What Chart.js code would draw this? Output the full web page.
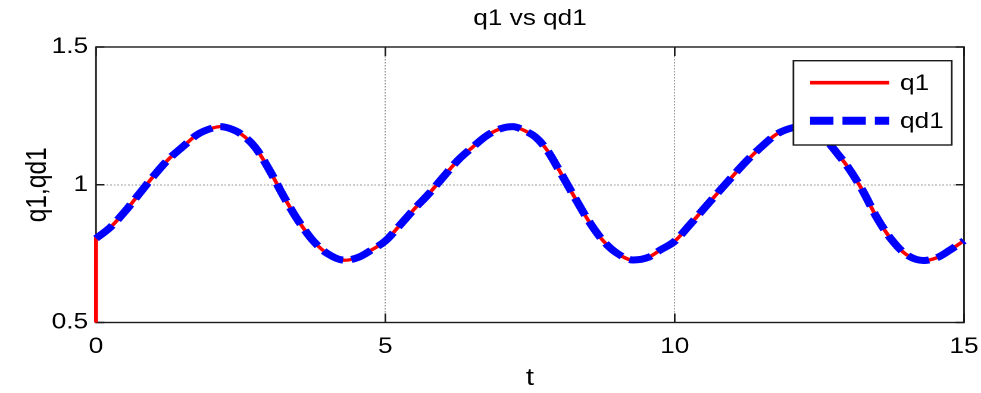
<!DOCTYPE html>
<html>
<head>
<meta charset="utf-8">
<script src="https://cdn.jsdelivr.net/npm/chart.js@4.4.1/dist/chart.umd.min.js"></script>
<style>
  html, body { margin: 0; padding: 0; background: #fff; overflow: hidden; }
  /* the figure is laid out at 824px and widened to fill the 981px window */
  #wrap { position: absolute; left: 0; top: 0; width: 824px; height: 393px;
          transform: scaleX(1.19053); transform-origin: 0 0; }
  canvas { display: block; }
</style>
</head>
<body>
<div id="wrap"><canvas id="c" width="824" height="393"></canvas></div>
<script>
// sample times (s)
const tValues = [
  0, 0.25, 0.5, 0.75, 1, 1.25, 1.5, 1.75, 2, 2.15, 2.3, 2.5, 2.75, 3, 3.25, 3.5, 3.75, 4, 4.3, 4.55, 4.75,
  5, 5.25, 5.5, 5.75, 6, 6.25, 6.5, 6.75, 7, 7.2, 7.4, 7.6, 7.8, 8, 8.25, 8.5, 8.75, 9, 9.28, 9.55, 9.75,
  10, 10.25, 10.5, 10.75, 11, 11.25, 11.5, 11.75, 12, 12.2, 12.4, 12.6, 12.8, 13, 13.25, 13.5, 13.75, 14, 14.3, 14.55, 14.75,
  15
];

// desired joint trajectory qd1
const qd1Values = [
  0.805, 0.846, 0.903, 0.968, 1.033, 1.092, 1.138, 1.182, 1.205, 1.211, 1.205, 1.185, 1.136, 1.052, 0.955, 0.868, 0.797, 0.750, 0.726, 0.738, 0.762,
  0.796, 0.853, 0.912, 0.967, 1.028, 1.088, 1.135, 1.178, 1.204, 1.211, 1.197, 1.172, 1.124, 1.054, 0.962, 0.873, 0.800, 0.752, 0.727, 0.737, 0.763,
  0.795, 0.852, 0.912, 0.972, 1.031, 1.088, 1.138, 1.182, 1.205, 1.211, 1.197, 1.166, 1.116, 1.062, 0.978, 0.878, 0.800, 0.747, 0.725, 0.737, 0.762,
  0.797
];

// measured joint angle q1 (starts from its initial position, then follows qd1)
const q1Initial = 0.5;
const q1Values = [
  0.805, 0.846, 0.903, 0.968, 1.033, 1.092, 1.138, 1.182, 1.205, 1.211, 1.205, 1.185, 1.136, 1.052, 0.955, 0.868, 0.797, 0.750, 0.726, 0.738, 0.762,
  0.796, 0.853, 0.912, 0.967, 1.028, 1.088, 1.135, 1.178, 1.204, 1.211, 1.197, 1.172, 1.124, 1.054, 0.962, 0.873, 0.800, 0.752, 0.727, 0.737, 0.763,
  0.795, 0.852, 0.912, 0.972, 1.031, 1.088, 1.138, 1.182, 1.205, 1.211, 1.197, 1.166, 1.116, 1.062, 0.978, 0.878, 0.800, 0.747, 0.725, 0.737, 0.762,
  0.797
];

const xTicks = [0, 5, 10, 15];
const yTicks = [0.5, 1, 1.5];

const FONT = "'Liberation Sans', Arial, Helvetica, sans-serif";

const q1Points = [{ x: 0, y: q1Initial }].concat(tValues.map((t, i) => ({ x: t, y: q1Values[i] })));
const qd1Points = tValues.map((t, i) => ({ x: t, y: qd1Values[i] }));

// axes box with inward tick marks on all four sides
const axesFrame = {
  id: 'axesFrame',
  beforeDatasetsDraw(chart) {
    const { ctx, chartArea: a, scales: { x, y } } = chart;
    ctx.save();
    ctx.strokeStyle = '#1a1a1a';
    ctx.lineWidth = 1.4;
    ctx.setLineDash([]);
    ctx.strokeRect(a.left, a.top, a.right - a.left, a.bottom - a.top);
    ctx.beginPath();
    x.ticks.forEach(t => {
      const px = x.getPixelForValue(t.value);
      ctx.moveTo(px, a.bottom); ctx.lineTo(px, a.bottom - 9);
      ctx.moveTo(px, a.top); ctx.lineTo(px, a.top + 9);
    });
    y.ticks.forEach(t => {
      const py = y.getPixelForValue(t.value);
      ctx.moveTo(a.left, py); ctx.lineTo(a.left + 7, py);
      ctx.moveTo(a.right, py); ctx.lineTo(a.right - 7, py);
    });
    ctx.stroke();
    ctx.restore();
  }
};

// boxed legend in the upper right corner of the axes
const boxLegend = {
  id: 'boxLegend',
  afterDatasetsDraw(chart) {
    const { ctx, chartArea: a } = chart;
    const right = a.right - 10.3;
    const left = right - 133;
    const top = a.top + 13.7;
    const height = 84.3;
    ctx.save();
    ctx.fillStyle = '#ffffff';
    ctx.fillRect(left, top, right - left, height);
    ctx.strokeStyle = '#1a1a1a';
    ctx.lineWidth = 1.4;
    ctx.setLineDash([]);
    ctx.strokeRect(left, top, right - left, height);
    chart.data.datasets.forEach((ds, i) => {
      const ly = top + 22 + i * 38;
      ctx.beginPath();
      ctx.strokeStyle = ds.borderColor;
      ctx.lineWidth = ds.legendLineWidth;
      ctx.lineCap = 'butt';
      ctx.setLineDash(ds.legendDash || []);
      ctx.moveTo(left + 14, ly);
      ctx.lineTo(left + 80.4, ly);
      ctx.stroke();
      ctx.setLineDash([]);
      ctx.fillStyle = '#000';
      ctx.font = '22px ' + FONT;
      ctx.textAlign = 'left';
      ctx.textBaseline = 'middle';
      ctx.fillText(ds.label, left + 89.6, ly + 1);
    });
    ctx.restore();
  }
};

const tickFont = { family: FONT, size: 22, weight: 'normal' };
const labelFont = { family: FONT, size: 24.5, weight: 'normal' };

new Chart(document.getElementById('c'), {
  type: 'line',
  data: {
    datasets: [
      {
        label: 'q1',
        data: q1Points,
        borderColor: '#ff0000',
        borderWidth: 3.3,
        legendLineWidth: 3.6,
        pointRadius: 0,
        fill: false,
        cubicInterpolationMode: 'monotone',
        clip: false,
        order: 2
      },
      {
        label: 'qd1',
        data: qd1Points,
        borderColor: '#0000ff',
        borderWidth: 7,
        legendLineWidth: 8,
        borderDash: [19, 7],
        legendDash: [19.6, 7.6],
        borderCapStyle: 'butt',
        pointRadius: 0,
        fill: false,
        cubicInterpolationMode: 'monotone',
        clip: false,
        order: 1
      }
    ]
  },
  options: {
    responsive: false,
    animation: false,
    devicePixelRatio: 2,
    events: [],
    layout: { padding: { left: 0, right: 14.26, top: 0, bottom: 0 } },
    plugins: {
      legend: { display: false },
      tooltip: { enabled: false },
      title: {
        display: true,
        text: 'q1 vs qd1',
        fullSize: false,
        color: '#000',
        font: { family: FONT, size: 22, weight: 'normal', lineHeight: 1.2 },
        padding: { top: 5.8, bottom: 14.8 }
      }
    },
    scales: {
      x: {
        type: 'linear',
        min: 0,
        max: 15,
        afterBuildTicks: s => { s.ticks = xTicks.map(v => ({ value: v })); },
        ticks: { color: '#000', font: tickFont, padding: 11, maxRotation: 0, autoSkip: false, callback: v => String(v) },
        grid: { color: '#9a9a9a', lineWidth: 1, drawTicks: false },
        border: { display: false, dash: [1.5, 1.5] },
        title: { display: true, text: 't', color: '#000', font: labelFont, padding: { top: 0, bottom: 0 } },
        afterFit: s => { s.height = 70.5; s.paddingLeft = 0; s.paddingRight = 0; }
      },
      y: {
        type: 'linear',
        min: 0.5,
        max: 1.5,
        afterBuildTicks: s => { s.ticks = yTicks.map(v => ({ value: v })); },
        ticks: { color: '#000', font: tickFont, padding: 6.7, autoSkip: false, callback: v => String(v) },
        grid: { color: '#9a9a9a', lineWidth: 1, drawTicks: false },
        border: { display: false, dash: [1.5, 1.5] },
        title: { display: true, text: 'q1,qd1', color: '#000', font: labelFont, padding: { top: 17.2, bottom: 0 } },
        afterFit: s => { s.width = 80.64; s.paddingTop = 0; s.paddingBottom = 0; }
      }
    }
  },
  plugins: [axesFrame, boxLegend]
});
</script>
</body>
</html>
